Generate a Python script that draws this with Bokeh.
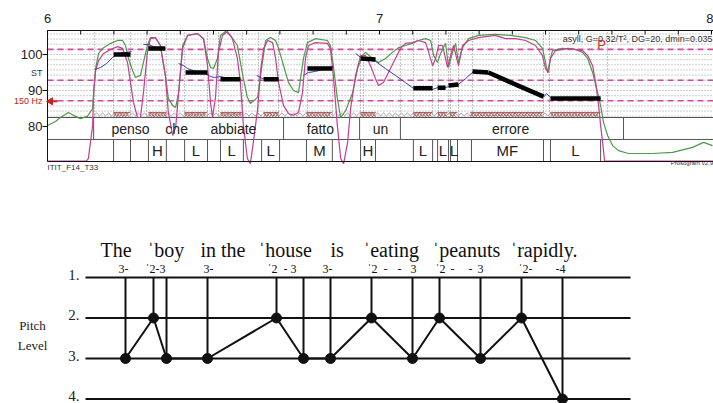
import numpy as np
from bokeh.plotting import figure
from bokeh.layouts import column
from bokeh.models import Range1d
from bokeh.core.properties import value
from bokeh.embed import file_html
from bokeh.resources import INLINE

SANS = "Liberation Sans"
SERIF = "Liberation Serif"

# ---------------- Prosogram data (time in s, pitch in semitones) ----------------
x_ticks = [6, 7, 8]
x_minor_step = 0.1
y_ticks = [80, 90, 100]
ref_lines_st = [101.43, 92.86, 87.14]
ref_hz_st = 87.0

green_t = [6.000, 6.024, 6.039, 6.063, 6.078, 6.099, 6.120, 6.136, 6.139, 6.145, 6.154, 6.169, 6.190,
           6.211, 6.226, 6.235, 6.244, 6.256, 6.265, 6.280, 6.289, 6.301, 6.310, 6.325, 6.340, 6.355,
           6.364, 6.377, 6.386, 6.395, 6.407, 6.422, 6.452, 6.470, 6.482, 6.491, 6.500, 6.512, 6.521,
           6.536, 6.551, 6.572, 6.581, 6.590, 6.602, 6.611, 6.633, 6.648, 6.657, 6.672, 6.687, 6.696,
           6.711, 6.726, 6.741, 6.756, 6.771, 6.783, 6.807, 6.843, 6.852, 6.861, 6.873, 6.883, 6.898,
           6.919, 6.934, 6.949, 6.958, 6.979, 6.997, 7.018, 7.039, 7.057, 7.078, 7.099, 7.117, 7.139,
           7.154, 7.163, 7.175, 7.184, 7.199, 7.208, 7.220, 7.229, 7.238, 7.250, 7.268, 7.298, 7.349,
           7.395, 7.440, 7.470, 7.491, 7.500, 7.506, 7.515, 7.521, 7.551, 7.590, 7.611, 7.627, 7.642,
           7.657, 7.666, 7.675, 7.687, 7.702, 7.720, 7.750, 7.822, 7.883, 7.943, 7.976, 8.003]
green_st = [80.3, 81.4, 82.5, 83.9, 83.1, 82.2, 82.8, 85.0, 89.4, 96.1, 100.3, 101.9, 103.1,
            103.9, 103.9, 102.5, 98.9, 95.6, 93.6, 94.2, 97.8, 102.5, 104.7, 104.7, 102.5, 94.2,
            87.8, 85.8, 85.3, 89.4, 102.5, 105.3, 105.8, 104.4, 98.9, 96.4, 96.1, 98.9, 105.3,
            106.4, 105.3, 102.5, 97.8, 93.3, 88.1, 86.4, 88.1, 98.3, 103.9, 104.7, 103.9, 101.7,
            96.9, 92.2, 90.0, 89.4, 98.9, 103.3, 104.4, 103.9, 102.5, 96.9, 87.8, 82.5, 84.4,
            89.4, 96.1, 99.7, 100.6, 98.9, 97.8, 98.9, 100.6, 101.9, 102.5, 103.1, 103.9, 104.4,
            103.9, 99.7, 97.8, 100.3, 103.1, 96.4, 100.6, 103.1, 97.8, 101.9, 104.4, 105.3, 105.6,
            105.3, 104.7, 103.9, 101.7, 97.8, 95.0, 98.9, 101.1, 101.7, 101.4, 100.6, 98.9, 95.0,
            89.4, 85.8, 81.1, 77.5, 74.7, 73.3, 72.5, 72.5, 72.8, 74.2, 75.6, 74.7]

pink_t = [6.000, 6.117, 6.123, 6.136, 6.139, 6.145, 6.154, 6.169, 6.190, 6.211, 6.226, 6.241, 6.250,
          6.259, 6.271, 6.280, 6.289, 6.301, 6.310, 6.325, 6.340, 6.355, 6.364, 6.377, 6.386, 6.395,
          6.407, 6.422, 6.452, 6.470, 6.482, 6.491, 6.497, 6.506, 6.515, 6.527, 6.542, 6.557, 6.572,
          6.581, 6.590, 6.602, 6.611, 6.620, 6.633, 6.642, 6.651, 6.663, 6.678, 6.687, 6.696, 6.711,
          6.726, 6.741, 6.756, 6.768, 6.777, 6.786, 6.807, 6.843, 6.852, 6.861, 6.873, 6.883, 6.892,
          6.904, 6.913, 6.928, 6.943, 6.958, 6.973, 6.988, 6.997, 7.012, 7.027, 7.048, 7.063, 7.078,
          7.099, 7.117, 7.139, 7.148, 7.160, 7.169, 7.178, 7.190, 7.205, 7.214, 7.223, 7.238, 7.250,
          7.268, 7.298, 7.349, 7.380, 7.410, 7.440, 7.470, 7.491, 7.500, 7.509, 7.515, 7.530, 7.569,
          7.611, 7.627, 7.642, 7.651, 7.660, 7.666, 7.672, 7.678, 8.006]
pink_st = [70.4, 70.4, 71.1, 80.3, 89.4, 95.6, 98.3, 100.3, 101.4, 102.2, 101.7, 97.8, 92.2,
           86.7, 82.5, 82.5, 89.4, 100.6, 104.4, 104.7, 102.5, 94.2, 83.9, 77.5, 79.7, 89.4,
           101.7, 105.3, 105.8, 104.4, 96.9, 86.7, 82.5, 88.1, 100.6, 105.3, 106.4, 104.4, 98.9,
           92.2, 80.3, 71.1, 69.7, 75.6, 85.0, 95.6, 101.7, 103.9, 103.3, 98.9, 92.2, 85.8,
           83.6, 83.1, 83.9, 89.4, 98.9, 102.5, 103.3, 103.1, 101.7, 94.2, 80.3, 71.1, 69.7,
           75.6, 85.0, 94.2, 99.7, 99.7, 96.9, 93.3, 91.4, 92.2, 95.0, 98.9, 101.7, 103.1,
           103.3, 103.9, 103.3, 100.6, 96.9, 98.9, 102.5, 102.5, 96.4, 99.7, 102.5, 96.9, 102.5,
           103.9, 104.7, 105.3, 104.4, 104.4, 103.9, 102.5, 99.7, 96.1, 95.0, 98.9, 101.1, 101.7,
           101.1, 99.7, 96.9, 92.2, 85.8, 80.3, 75.6, 70.4, 70.4]

f0_t = [
    [6.142, 6.160, 6.178, 6.196, 6.214, 6.238, 6.253],
    [6.289, 6.304, 6.319, 6.340, 6.355],
    [6.395, 6.410, 6.422, 6.446, 6.476, 6.491, 6.503, 6.521, 6.545, 6.566, 6.581],
    [6.630, 6.648, 6.672, 6.696],
    [6.771, 6.786, 6.807, 6.828, 6.852, 6.861],
    [6.928, 6.943, 6.967, 6.988, 7.018, 7.048, 7.078, 7.102, 7.123, 7.160, 7.175, 7.199, 7.208,
     7.238, 7.259, 7.280, 7.304, 7.328, 7.364, 7.410, 7.455, 7.494, 7.503, 7.512, 7.521, 7.590, 7.666],
]
f0_st = [
    [95.8, 96.4, 97.5, 99.2, 100.3, 100.6, 100.8],
    [102.8, 102.8, 102.2, 101.7, 101.7],
    [97.5, 96.9, 96.1, 95.3, 94.7, 93.9, 93.6, 93.9, 93.3, 93.1, 93.1],
    [94.2, 93.3, 93.1, 93.1],
    [94.2, 95.0, 95.3, 95.8, 96.4, 96.9],
    [100.3, 99.2, 98.6, 98.1, 96.1, 94.2, 92.2, 90.6, 90.3, 90.3, 90.8, 90.8, 91.1,
     91.7, 93.3, 95.0, 95.0, 94.7, 93.1, 91.1, 89.4, 88.1, 89.2, 88.3, 87.8, 87.8, 87.8],
]

styl_t0 = [6.199, 6.304, 6.416, 6.521, 6.651, 6.783, 6.943, 7.102, 7.175, 7.208, 7.280, 7.328, 7.515]
styl_t1 = [6.250, 6.355, 6.482, 6.581, 6.696, 6.858, 6.988, 7.160, 7.199, 7.238, 7.328, 7.494, 7.666]
styl_st0 = [100.0, 101.7, 95.0, 93.1, 93.1, 96.1, 98.9, 90.6, 90.8, 91.4, 95.3, 95.0, 87.8]
styl_st1 = [100.0, 101.7, 95.0, 93.1, 93.1, 96.1, 98.6, 90.6, 90.8, 91.7, 95.0, 88.3, 87.8]

nucleus_start = [6.199, 6.304, 6.413, 6.521, 6.651, 6.780, 6.943, 7.102, 7.175, 7.211, 7.274, 7.515]
nucleus_end = [6.250, 6.358, 6.482, 6.590, 6.696, 6.858, 6.988, 7.160, 7.205, 7.235, 7.494, 7.666]
voiced_span = [6.139, 7.666]

syll_bounds = [6.142, 6.199, 6.250, 6.298, 6.358, 6.413, 6.482, 6.515, 6.587, 6.636, 6.696, 6.783,
               6.858, 6.943, 6.952, 7.063, 7.102, 7.160, 7.178, 7.208, 7.214, 7.238, 7.280, 7.494,
               7.512, 7.687]

tier1_bounds = [6.139, 6.711, 6.940, 7.063, 7.735]
words = ["penso", "che", "abbiate", "fatto", "un", "errore"]
word_t = [6.250, 6.389, 6.560, 6.822, 7.003, 7.395]

tier2_bounds = [6.199, 6.250, 6.304, 6.358, 6.413, 6.482, 6.521, 6.590, 6.645, 6.699, 6.780, 6.858,
                6.943, 6.988, 7.102, 7.160, 7.175, 7.208, 7.214, 7.235, 7.277, 7.494, 7.515, 7.666]
tones = ["H", "L", "L", "L", "M", "H", "L", "L", "L", "MF", "L"]
tone_t = [6.331, 6.447, 6.555, 6.672, 6.819, 6.965, 7.131, 7.191, 7.224, 7.385, 7.590]

# ---------------- Pitch-level diagram data ----------------
pl_x = [125, 153, 166, 207, 276, 303, 330, 371, 412, 439, 480, 521, 562]
pl_level = [3, 2, 3, 3, 2, 3, 3, 2, 3, 2, 3, 2, 4]
levels = [1, 2, 3, 4]
level_names = ["1.", "2.", "3.", "4."]
sent_words = ["The", "\u02c8boy", "in the", "\u02c8house", "is", "\u02c8eating", "\u02c8peanuts", "\u02c8rapidly."]
sent_x = [100, 147, 200, 258, 330, 363, 432, 510]
marks = ["3-", "\u02c82-3", "3-", "\u02c82", "- 3", "3-", "\u02c82", "-", "-", "3", "\u02c82", "-", "-", "3", "\u02c82-", "-4"]
marks_x = [118, 145, 203, 267, 283, 322, 367, 383, 397, 410, 435, 450, 468, 477, 518, 555]

# ---------------- Top figure: prosogram ----------------
PX_PER_S = 332.0
PX_PER_ST = 3.6
T0, T1 = 6.0, 8.006           # time span of the plotting box
ST_LO, ST_HI = 70.28, 106.67  # pitch span of the plotting box
TIER_TOP, TIER_MID = 82.5, 76.4
W, H1, H2 = 713, 180, 223
XL = T0 - 47 / PX_PER_S
YT = ST_HI + 30 / PX_PER_ST
YB = YT - H1 / PX_PER_ST

p = figure(width=W, height=H1, x_range=Range1d(XL, XL + W / PX_PER_S), y_range=Range1d(YB, YT),
           output_backend="svg", toolbar_location=None,
           min_border_left=0, min_border_right=0, min_border_top=0, min_border_bottom=0)
p.axis.visible = False
p.grid.visible = False
p.outline_line_color = None
p.background_fill_color = "white"

# pitch grid (dotted)
grid_st = [round(100 + k * 10 / 7, 2) for k in range(-12, 5)]
p.segment(x0=T0, x1=T1, y0=grid_st, y1=grid_st, line_color="#9a9a9a", line_dash="1 2", line_width=1)

# syllable boundaries (dotted verticals)
p.segment(x0=syll_bounds, x1=syll_bounds, y0=TIER_TOP, y1=ST_HI,
          line_color="#888888", line_dash="1 2", line_width=1)

# reference (dashed magenta) lines
p.segment(x0=T0, x1=T1, y0=ref_lines_st, y1=ref_lines_st,
          line_color="#d24b9c", line_dash="6 4", line_width=1.6)

# nucleus markers (zigzag decorations)
zz_t = np.arange(voiced_span[0], voiced_span[1], 0.009)
zz_y = np.where(np.arange(len(zz_t)) % 2 == 0, 82.95, 83.75)
p.line(zz_t, zz_y, line_color="#8a8a8a", line_width=0.8)
for a, b in zip(nucleus_start, nucleus_end):
    tt = np.arange(a, b + 1e-9, 0.009)
    up = np.where(np.arange(len(tt)) % 2 == 0, 82.7, 83.9)
    dn = np.where(np.arange(len(tt)) % 2 == 0, 83.9, 82.7)
    p.line(tt, up, line_color="#9b4040", line_width=0.7)
    p.line(tt, dn, line_color="#9b4040", line_width=0.7)
p.segment(x0=nucleus_start, x1=nucleus_end, y0=83.9, y1=83.9, line_color="#9b4040", line_width=0.8)

# tiers
p.segment(x0=T0, x1=T1, y0=[TIER_TOP, TIER_MID], y1=[TIER_TOP, TIER_MID],
          line_color="#555555", line_width=1)
p.segment(x0=tier1_bounds, x1=tier1_bounds, y0=TIER_MID, y1=TIER_TOP, line_color="#555555", line_width=1)
p.segment(x0=tier2_bounds, x1=tier2_bounds, y0=ST_LO, y1=TIER_MID, line_color="#555555", line_width=1)

# curves
p.line(green_t, green_st, line_color="#4c9b47", line_width=1.2)
p.line(pink_t, pink_st, line_color="#c63d95", line_width=1.2)
p.multi_line(f0_t, f0_st, line_color="#3a3aa8", line_width=1)
p.segment(x0=styl_t0, x1=styl_t1, y0=styl_st0, y1=styl_st1, line_color="black",
          line_width=4.5, line_cap="butt")

# tier texts
p.text(x=word_t, y=[79.4] * len(words), text=words, text_align="center", text_baseline="middle",
       text_font=value(SANS), text_font_size="14px", text_color="#222222")
p.text(x=tone_t, y=[73.3] * len(tones), text=tones, text_align="center", text_baseline="middle",
       text_font=value(SANS), text_font_size="15px", text_color="#222222")

# plotting box and axes (ticks from the tick lists)
p.segment(x0=[T0, T0, T0], x1=[T1, T1, T0], y0=[ST_HI, ST_LO, ST_LO], y1=[ST_HI, ST_LO, ST_HI],
          line_color="#111111", line_width=1)
minor_t = [round(T0 + x_minor_step * i, 1) for i in range(0, 21)]
tick_len_st = 4 / PX_PER_ST
p.segment(x0=minor_t, x1=minor_t, y0=ST_HI, y1=ST_HI - tick_len_st, line_color="#111111", line_width=1)
label_y = ST_HI + 12 / PX_PER_ST
p.text(x=x_ticks[:-1], y=[label_y] * (len(x_ticks) - 1), text=[str(v) for v in x_ticks[:-1]],
       text_align="center", text_baseline="middle", text_font=value(SANS), text_font_size="13px",
       text_color="#222222")
p.text(x=x_ticks[-1:], y=[label_y], text=[str(v) for v in x_ticks[-1:]],
       text_align="right", x_offset=2, text_baseline="middle", text_font=value(SANS),
       text_font_size="13px", text_color="#222222")
tick_out_t = T0 - 5 / PX_PER_S
p.segment(x0=tick_out_t, x1=T0, y0=y_ticks, y1=y_ticks, line_color="#111111", line_width=1)
p.text(x=[tick_out_t] * len(y_ticks), y=y_ticks, text=[str(v) for v in y_ticks],
       text_align="right", text_baseline="middle", text_font=value(SANS), text_font_size="13px",
       text_color="#222222")
p.text(x=[tick_out_t], y=[95.0], text=["ST"], text_align="right", text_baseline="middle",
       text_font=value(SANS), text_font_size="9px", text_color="#333333")
p.text(x=[tick_out_t], y=[ref_hz_st], text=["150 Hz"], text_align="right", text_baseline="middle",
       text_font=value(SANS), text_font_size="9px", text_color="#c02020")

# 150 Hz arrow
p.segment(x0=[T0 + 2 / PX_PER_S], x1=[T0 + 10 / PX_PER_S], y0=[ref_hz_st], y1=[ref_hz_st],
          line_color="#d02020", line_width=2)
p.scatter(x=[T0 + 3 / PX_PER_S], y=[ref_hz_st], marker="triangle", size=7, angle=np.pi / 2,
          fill_color="#d02020", line_color="#d02020")

# annotations
p.text(x=[8.003], y=[104.4], text=["asyll, G=0.32/T\u00b2, DG=20, dmin=0.035"], text_align="right",
       text_baseline="middle", text_font=value(SANS), text_font_size="9px", text_color="#333333")
p.text(x=[7.669], y=[102.8], text=["P"], text_align="center", text_baseline="middle",
       text_font=value(SANS), text_font_size="13px", text_color="#d03030")
p.text(x=[T0], y=[68.75], text=["ITIT_F14_T33"], text_align="left", text_baseline="middle",
       text_font=value(SANS), text_font_size="8px", text_color="#333333")
p.text(x=[7.877], y=[69.85], text=["Prosogram v2.9"], text_align="left", text_baseline="middle",
       text_font=value(SANS), text_font_size="6px", text_color="#333333")

# ---------------- Bottom figure: pitch levels ----------------
PX_PER_LEVEL = 40.5
L1_PAGE_Y = 277
L_TOP = 1 - (L1_PAGE_Y - H1) / PX_PER_LEVEL
L_BOTTOM = L_TOP + H2 / PX_PER_LEVEL
q = figure(width=W, height=H2, x_range=Range1d(0, W), y_range=Range1d(L_BOTTOM, L_TOP),
           output_backend="svg", toolbar_location=None,
           min_border_left=0, min_border_right=0, min_border_top=0, min_border_bottom=0)
q.axis.visible = False
q.grid.visible = False
q.outline_line_color = None
q.background_fill_color = "white"

q.segment(x0=85, x1=630, y0=levels, y1=levels, line_color="#111111", line_width=2)
q.segment(x0=pl_x, x1=pl_x, y0=1, y1=pl_level, line_color="#111111", line_width=2)
q.line(pl_x, pl_level, line_color="#111111", line_width=2)
q.scatter(pl_x, pl_level, size=10, fill_color="#111111", line_color="#111111")

q.text(x=[79] * 4, y=levels, text=level_names, text_align="right", text_baseline="middle",
       y_offset=-3, text_font=value(SERIF), text_font_size="15px", text_color="#222222")
q.text(x=[32, 32], y=[2.185, 2.68], text=["Pitch", "Level"], text_align="center",
       text_baseline="middle", text_font=value(SERIF), text_font_size="13px", text_color="#222222")
q.text(x=sent_x, y=[0.333] * len(sent_words), text=sent_words, text_align="left",
       text_baseline="alphabetic", text_font=value(SERIF), text_font_size="20px", text_color="#111111")
q.text(x=marks_x, y=[0.778] * len(marks), text=marks, text_align="left",
       text_baseline="alphabetic", text_font=value(SERIF), text_font_size="12px", text_color="#111111")

layout = column(p, q, spacing=0)
open("out.html", "w").write(file_html(layout, INLINE))
